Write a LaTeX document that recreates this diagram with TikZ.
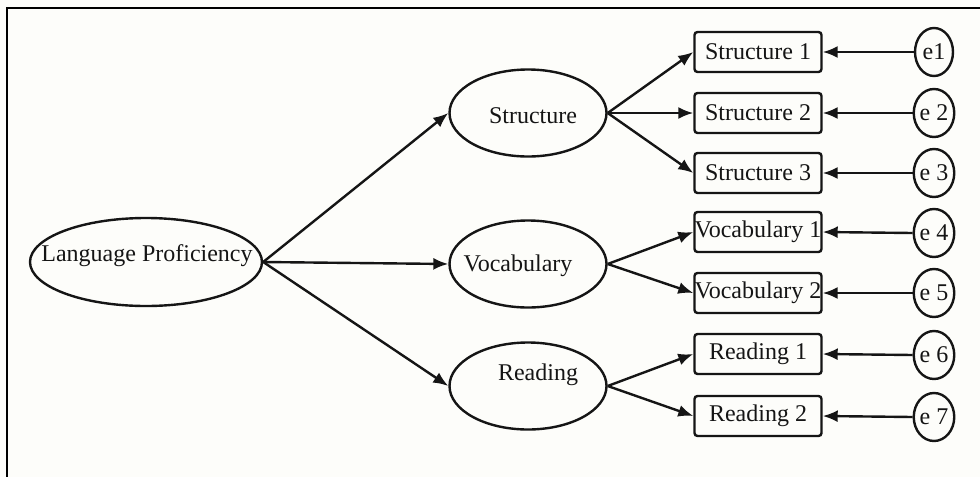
\documentclass[tikz,border=0pt]{standalone}
\usepackage{fontspec}
\setmainfont{Liberation Serif}
\usetikzlibrary{shapes.geometric,arrows.meta}
\definecolor{bgc}{HTML}{FDFDFA}
\definecolor{ink}{HTML}{151515}
\tikzset{
  lat/.style={draw=ink,line width=2.4pt,ellipse,inner sep=0pt,minimum width=157pt,minimum height=87pt},
  obs/.style={draw=ink,line width=2.4pt,rectangle,rounded corners=3pt,inner sep=0pt,minimum width=127pt,minimum height=40pt,font=\fontsize{24}{26}\selectfont,text=ink},
  err/.style={draw=ink,line width=2.4pt,ellipse,inner sep=0pt,minimum width=38pt,minimum height=48pt,font=\fontsize{24}{26}\selectfont,text=ink},
  lbl/.style={inner sep=0pt,font=\fontsize{24}{26}\selectfont,text=ink},
  arr/.style={draw=ink,line width=2.4pt,-{Latex[length=15pt,width=12pt]}},
  frame/.style={draw=black,line width=2.6pt}
}
\begin{document}
\begin{tikzpicture}[x=1pt,y=-1pt]
\fill[bgc] (0,0) rectangle (980,477);
\useasboundingbox (0,0) rectangle (980,477);
\coordinate (fTL) at (7,8);
\coordinate (fTR) at (980,8);
\coordinate (fBL) at (7,477);
\draw[frame] (fTR) -- (fTL) -- (fBL);

% latent variables
\node[lat,minimum width=232pt,minimum height=88pt] (lp) at (146,262) {};
\node[lbl] (lpT) at (147,256) {Language Proficiency};
\node[lat] (st) at (528,113) {};
\node[lbl] (stT) at (533,116) {Structure};
\node[lat] (vo) at (528,264) {};
\node[lbl] (voT) at (518,266) {Vocabulary};
\node[lat] (re) at (528,386) {};
\node[lbl] (reT) at (538,375) {Reading};

% observed variables
\node[obs] (s1) at (758,52) {Structure 1};
\node[obs] (s2) at (758,113) {Structure 2};
\node[obs] (s3) at (758,173) {Structure 3};
\node[obs] (v1) at (758,232) {Vocabulary 1};
\node[obs] (v2) at (758,293) {Vocabulary 2};
\node[obs] (r1) at (758,354) {Reading 1};
\node[obs] (r2) at (758,416) {Reading 2};

% errors
\node[err] (e1) at (934,52) {e1};
\node[err] (e2) at (934,113) {e 2};
\node[err] (e3) at (934,173) {e 3};
\node[err] (e4) at (934,233) {e 4};
\node[err] (e5) at (934,293) {e 5};
\node[err] (e6) at (934,355) {e 6};
\node[err] (e7) at (934,417) {e 7};

% paths
\draw[arr] (lp.east) -- (st.west);
\draw[arr] (lp.east) -- (vo.west);
\draw[arr] (lp.east) -- (re.west);
\draw[arr] (st.east) -- (s1.west);
\draw[arr] (st.east) -- (s2.west);
\draw[arr] (st.east) -- (s3.west);
\draw[arr] (vo.east) -- (v1.west);
\draw[arr] (vo.east) -- (v2.west);
\draw[arr] (re.east) -- (r1.west);
\draw[arr] (re.east) -- (r2.west);
\foreach \e/\b in {e1/s1,e2/s2,e3/s3,e4/v1,e5/v2,e6/r1,e7/r2}
  \draw[arr] (\e.west) -- (\b.east);
\end{tikzpicture}
\end{document}
